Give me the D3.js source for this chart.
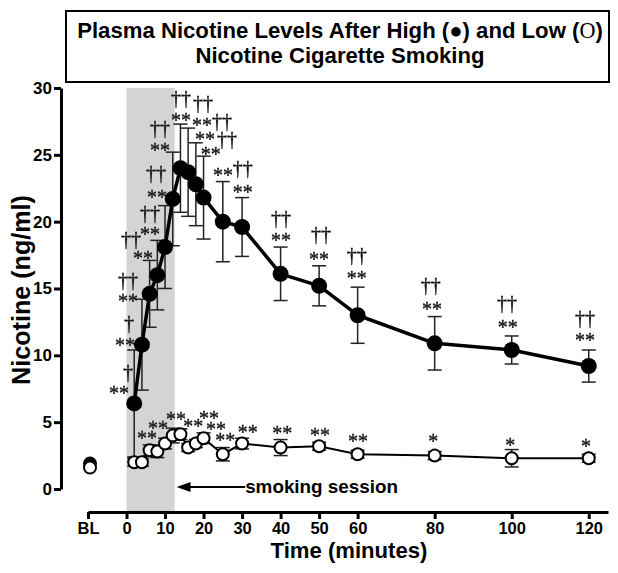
<!DOCTYPE html>
<html><head><meta charset="utf-8">
<script src="https://cdn.jsdelivr.net/npm/d3@7"></script>
<style>body{margin:0;background:#fff}svg{display:block}</style>
</head><body><svg id="c" width="618" height="573"></svg>
<script>
// ---- data ----
const times   = [2,4,6,8,10,12,14,16,18,20,25,30,40,50,60,80,100,120];
const highMean= [6.4,10.8,14.6,16.0,18.1,21.7,24.0,23.7,22.8,21.8,20.0,19.6,16.1,15.2,13.0,10.9,10.4,9.2];
const highSem = [4.0,3.4,2.5,2.6,3.1,3.5,3.3,3.3,3.1,3.1,3.0,2.2,2.0,1.5,2.1,2.0,1.05,1.2];
const lowMean = [2.0,2.0,2.9,2.8,3.4,4.0,4.1,3.1,3.4,3.8,2.6,3.4,3.1,3.2,2.6,2.5,2.3,2.3];
const lowSem  = [0.3,0.3,0.4,0.45,0.4,0.55,0.4,0.3,0.3,0.4,0.5,0.4,0.6,0.3,0.3,0.3,0.65,0.3];
const blHigh = 1.9, blLow = 1.6;
const xTicks = [-10,0,10,20,30,40,50,60,80,100,120];
const xTickLabels = ["BL","0","10","20","30","40","50","60","80","100","120"];
const yTicks = [0,5,10,15,20,25,30];
const sessionEnd = 12.5;

// significance marks (data coordinates of label centres)
const hiStarT=[-1.95,-0.39,0.39,4.28,6.1,7.9,8.7,14.15,19.6,20.4,21.9,25.05,30.2,40.1,50.0,59.8,79.3,99.0,119.0];
const hiStarV=[7.41,11.0,14.29,17.5,19.3,22.07,25.59,27.83,27.46,26.41,25.29,23.72,22.44,18.85,17.43,16.01,13.69,12.34,11.37];
const hiDagT=[0.39,0.65,0.39,1.17,6.1,7.66,8.7,14.15,19.86,24.8,26.1,30.2,40.1,50.5,59.8,79.0,98.8,119.0];
const hiDagV=[8.6,12.27,15.49,18.55,20.5,23.49,26.86,29.1,28.73,27.38,26.1,23.86,20.12,18.93,17.36,15.11,13.77,12.64];
const hiDagText=["†","†","††","††","††","††","††","††","††","††","††","††","††","††","††","††","††","††"];
const loStarT=[5.3,8.2,12.85,17.3,21.4,23.2,25.6,31.5,40.4,50.2,60.1,79.6,99.6,119.3];
const loStarV=[4.04,4.79,5.46,4.94,5.54,4.71,3.89,4.49,4.41,4.26,3.82,3.82,3.52,3.44];
const loStarText=["**","**","**","**","**","**","**","**","**","**","**","*","*","*"];

const titleLines=["Plasma Nicotine Levels After High (","●",") and Low (","O",")"];
const title2="Nicotine Cigarette Smoking";

// ---- drawing ----
const svg=d3.select("#c");
const SANS="'Liberation Sans', Arial, Helvetica, sans-serif";
const SERIF="'Liberation Serif', 'Times New Roman', serif";
const x=d3.scaleLinear().domain([-10,125]).range([88,608]);
const y=d3.scaleLinear().domain([0,30]).range([489,88]);
const xAxisY=512, yAxisX=61;

const defs=svg.append("defs");
const flt=defs.append("filter").attr("id","gray").attr("x",0).attr("y",0).attr("width",1).attr("height",1);
flt.append("feColorMatrix").attr("type","saturate").attr("values",0);

function fit(sel,target){const w=sel.node().getComputedTextLength();const fs=parseFloat(sel.attr("font-size"));sel.attr("font-size",fs*target/w);}

// shading
svg.append("rect").attr("x",x(0)).attr("y",y(30)).attr("width",x(sessionEnd)-x(0)).attr("height",xAxisY-y(30)).attr("fill","#d4d4d4");

// axes
const ya=svg.append("g").attr("transform",`translate(${yAxisX},0)`)
  .call(d3.axisLeft(y).tickValues(yTicks).tickSize(7).tickSizeOuter(0).tickPadding(2));
ya.select(".domain").attr("stroke","#000").attr("stroke-width",3);
ya.selectAll(".tick line").attr("stroke","#000").attr("stroke-width",3);
ya.selectAll(".tick text").attr("font-family",SANS).attr("font-weight","bold").attr("font-size",17).attr("fill","#000");

const xa=svg.append("g").attr("transform",`translate(0,${xAxisY})`)
  .call(d3.axisBottom(x).tickValues(xTicks).tickFormat((d,i)=>xTickLabels[i]).tickSize(7).tickSizeOuter(0).tickPadding(3));
xa.select(".domain").attr("stroke","#000").attr("stroke-width",3);
xa.selectAll(".tick line").attr("stroke","#000").attr("stroke-width",3);
xa.selectAll(".tick text").attr("font-family",SANS).attr("font-weight","bold").attr("font-size",16.5).attr("fill","#000");

// axis titles
const yt=svg.append("text").attr("transform",`translate(30,290) rotate(-90)`).attr("text-anchor","middle")
  .attr("font-family",SANS).attr("font-weight","bold").attr("font-size",20).text("Nicotine (ng/ml)");
fit(yt,190);
const xt=svg.append("text").attr("x",349).attr("y",558).attr("text-anchor","middle")
  .attr("font-family",SANS).attr("font-weight","bold").attr("font-size",20).text("Time (minutes)");
fit(xt,157);

// title box
svg.append("rect").attr("x",66).attr("y",11).attr("width",543).attr("height",71).attr("fill","#fff").attr("stroke","#000").attr("stroke-width",2);
const t1=svg.append("text").attr("x",340).attr("y",38).attr("text-anchor","middle").attr("font-family",SANS).attr("font-weight","bold").attr("font-size",20);
titleLines.forEach((s,i)=>{const ts=t1.append("tspan").text(s);if(i===3){ts.attr("font-family",SERIF).attr("font-weight","normal");}});
fit(t1,526);
const t2=svg.append("text").attr("x",340).attr("y",63).attr("text-anchor","middle").attr("font-family",SANS).attr("font-weight","bold").attr("font-size",t1.attr("font-size")).text(title2);

// error bars
function errBars(means,sems,w){
  const g=svg.append("g").attr("stroke","#222").attr("stroke-width",1.5).attr("fill","none");
  times.forEach((t,i)=>{
    const cx=x(t),y1=y(means[i]+sems[i]),y2=y(means[i]-sems[i]);
    g.append("line").attr("x1",cx).attr("x2",cx).attr("y1",y1).attr("y2",y2);
    g.append("line").attr("x1",cx-w).attr("x2",cx+w).attr("y1",y1).attr("y2",y1);
    g.append("line").attr("x1",cx-w).attr("x2",cx+w).attr("y1",y2).attr("y2",y2);
  });
}
errBars(highMean,highSem,7);
errBars(lowMean,lowSem,7);

const line=d3.line().x(d=>x(d[0])).y(d=>y(d[1]));
svg.append("path").datum(times.map((t,i)=>[t,highMean[i]])).attr("d",line).attr("fill","none").attr("stroke","#000").attr("stroke-width",3.5).attr("stroke-linejoin","round");
svg.append("path").datum(times.map((t,i)=>[t,lowMean[i]])).attr("d",line).attr("fill","none").attr("stroke","#000").attr("stroke-width",2);

svg.append("g").selectAll("circle").data(times).join("circle")
  .attr("cx",t=>x(t)).attr("cy",(t,i)=>y(highMean[i])).attr("r",8).attr("fill","#000");
svg.append("circle").attr("cx",x(-10)+2).attr("cy",y(blHigh)).attr("r",7).attr("fill","#000");
svg.append("circle").attr("cx",x(-10)+2).attr("cy",y(blLow)).attr("r",6).attr("fill","#fff").attr("stroke","#000").attr("stroke-width",2);
svg.append("g").selectAll("circle").data(times).join("circle")
  .attr("cx",t=>x(t)).attr("cy",(t,i)=>y(lowMean[i])).attr("r",6).attr("fill","#fff").attr("stroke","#000").attr("stroke-width",2);

// significance marks (grayscale filter removes colour fringes)
const FS=20;
const mg=svg.append("g").attr("filter","url(#gray)");
function marks(ts,vs,txt,dyFrac){
  mg.append("g").selectAll("text").data(ts).join("text")
    .attr("x",d=>x(d)).attr("y",(d,i)=>y(vs[i])+dyFrac*FS).attr("text-anchor","middle")
    .attr("font-family",SERIF).attr("font-size",FS).attr("fill","#111")
    .attr("stroke","#111").attr("stroke-width",0.35)
    .text((d,i)=>typeof txt==="string"?txt:txt[i]);
}
marks(hiStarT,hiStarV,"**",0.48);
marks(hiDagT,hiDagV,hiDagText,0.27);
marks(loStarT,loStarV,loStarText,0.48);

// smoking session arrow
const arrTip=13.0, arrTail=30.8, arrV=0.15;
const ay=y(arrV);
svg.append("line").attr("x1",x(arrTail)).attr("x2",x(arrTip)+10).attr("y1",ay).attr("y2",ay).attr("stroke","#000").attr("stroke-width",2);
svg.append("path").attr("d",`M${x(arrTip)},${ay} L${x(arrTip)+14},${ay-5} L${x(arrTip)+14},${ay+5} Z`).attr("fill","#000");
const st=svg.append("text").attr("x",x(arrTail)).attr("y",ay+6).attr("font-family",SANS).attr("font-weight","bold").attr("font-size",19).text("smoking session");
fit(st,153);
</script></body></html>
